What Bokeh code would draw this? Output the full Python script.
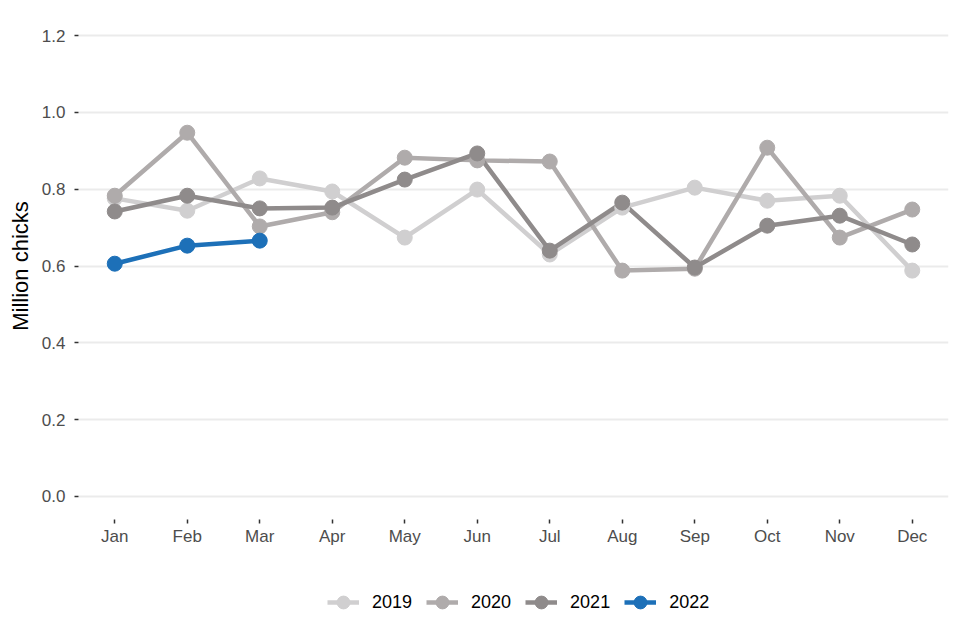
from bokeh.plotting import figure
from bokeh.layouts import column
from bokeh.models import Range1d, FixedTicker, NumeralTickFormatter, Legend, LegendItem
from bokeh.embed import file_html
from bokeh.resources import INLINE

months = ["Jan", "Feb", "Mar", "Apr", "May", "Jun", "Jul", "Aug", "Sep", "Oct", "Nov", "Dec"]
years = ["2019", "2020", "2021", "2022"]
v2019 = [0.776, 0.744, 0.828, 0.794, 0.674, 0.799, 0.630, 0.752, 0.804, 0.770, 0.783, 0.588]
v2020 = [0.783, 0.947, 0.703, 0.740, 0.882, 0.875, 0.872, 0.588, 0.593, 0.908, 0.674, 0.747]
v2021 = [0.742, 0.783, 0.750, 0.752, 0.825, 0.893, 0.640, 0.765, 0.596, 0.705, 0.731, 0.656]
v2022 = [0.606, 0.653, 0.666]
colors = ["#d0cfd0", "#afabab", "#8f8b8b", "#1d70b8"]
y_ticks = [0.0, 0.2, 0.4, 0.6, 0.8, 1.0, 1.2]

series = [v2019, v2020, v2021, v2022]
font = "Liberation Sans"

p = figure(width=952, height=550, output_backend="svg", toolbar_location=None,
           x_range=Range1d(0.5, 12.5), y_range=Range1d(-0.06, 1.26),
           min_border_left=78, min_border_right=4, min_border_top=12, min_border_bottom=31)
p.outline_line_color = None
p.background_fill_color = "white"
p.border_fill_color = "white"

p.xgrid.grid_line_color = None
p.ygrid.grid_line_color = "#ebebeb"
p.ygrid.grid_line_width = 2

p.xaxis.ticker = FixedTicker(ticks=list(range(1, 13)))
p.xaxis.major_label_overrides = {i + 1: m for i, m in enumerate(months)}
p.xaxis.axis_line_color = None
p.xaxis.major_tick_line_color = "#333333"
p.xaxis.major_tick_line_width = 1.5
p.xaxis.major_tick_out = 4
p.xaxis.major_tick_in = 0
p.xaxis.minor_tick_line_color = None
p.xaxis.major_label_standoff = 3
p.xaxis.major_label_text_font = font
p.xaxis.major_label_text_font_size = "17px"
p.xaxis.major_label_text_color = "#4d4d4d"

p.yaxis.ticker = FixedTicker(ticks=y_ticks)
p.yaxis.formatter = NumeralTickFormatter(format="0.0")
p.yaxis.axis_line_color = None
p.yaxis.minor_tick_line_color = None
p.yaxis.major_tick_line_color = "#333333"
p.yaxis.major_tick_line_width = 1.5
p.yaxis.major_tick_out = 4
p.yaxis.major_tick_in = 0
p.yaxis.major_label_standoff = 9
p.yaxis.major_label_text_font = font
p.yaxis.major_label_text_font_size = "17px"
p.yaxis.major_label_text_color = "#4d4d4d"
p.yaxis.axis_label = "Million chicks"
p.yaxis.axis_label_text_font = font
p.yaxis.axis_label_text_font_size = "22px"
p.yaxis.axis_label_text_font_style = "normal"
p.yaxis.axis_label_text_color = "black"
p.yaxis.axis_label_standoff = 6

for vals, c in zip(series, colors):
    xs = list(range(1, len(vals) + 1))
    p.line(xs, vals, line_color=c, line_width=4.5)
for vals, c in zip(series, colors):
    xs = list(range(1, len(vals) + 1))
    p.scatter(xs, vals, size=15, fill_color=c, line_color=c)

# legend strip below the chart (its own series renderers sit outside its visible range)
q = figure(width=952, height=82, output_backend="svg", toolbar_location=None,
           x_range=Range1d(0.5, 12.5), y_range=Range1d(10, 11),
           x_axis_location=None, y_axis_location=None,
           min_border_left=0, min_border_right=0, min_border_top=0, min_border_bottom=0)
q.grid.visible = False
q.outline_line_color = None
items = []
for y, vals, c in zip(years, series, colors):
    xs = list(range(1, len(vals) + 1))
    lr = q.line(xs, vals, line_color=c, line_width=4.5)
    sr = q.scatter(xs, vals, size=15, fill_color=c, line_color=c)
    items.append(LegendItem(label=y, renderers=[lr, sr]))
legend = Legend(items=items, orientation="horizontal", location=(249, 12),
                label_text_font=font, label_text_font_size="18px", label_text_color="black",
                glyph_width=32, glyph_height=36, label_standoff=13, spacing=14,
                border_line_color=None, background_fill_alpha=0, margin=0, padding=4)
q.add_layout(legend, "center")

open("out.html", "w").write(file_html(column(p, q, spacing=0), INLINE))
